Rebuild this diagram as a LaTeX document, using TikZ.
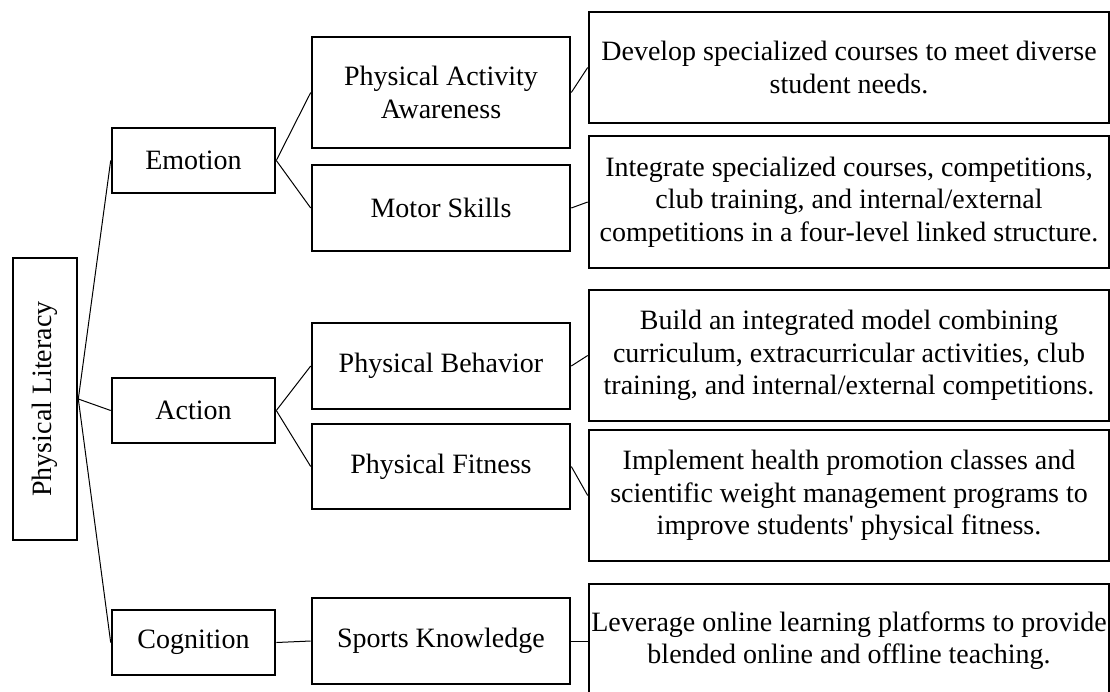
\documentclass[tikz,border=0pt]{standalone}
\usepackage{fontspec}
\setmainfont{Liberation Serif}
% a framed box given by its corners (x1,y1) and (x2,y2)
\newcommand\mkbox[6]{%
  \node[box, minimum width={#4-#2}, minimum height={#5-#3}] (#1)
    at ({(#2+#4)/2},{(#3+#5)/2}) {#6};}
\begin{document}
\begin{tikzpicture}[x=1pt,y=-1pt,
  box/.style={draw, line width=2.6pt, inner sep=0pt, align=center,
              font=\fontsize{28}{32.3}\selectfont},
  link/.style={line width=1pt}]
\clip (0,0) rectangle (1110,691);
\fill[white] (0,0) rectangle (1110,691);

% root
\mkbox{root}{13}{258}{77}{540}{\rotatebox{90}{Physical Literacy}}

% first level
\mkbox{emo}{112}{128}{275}{193}{Emotion}
\mkbox{act}{112}{378}{275}{443}{Action}
\mkbox{cog}{112}{610}{275}{675}{Cognition}

% second level
\mkbox{paa}{312}{37}{570}{148}{Physical Activity\\Awareness}
\mkbox{mot}{312}{165}{570}{251}{Motor Skills}
\mkbox{pbe}{312}{323}{570}{409}{Physical Behavior}
\mkbox{pfi}{312}{424}{570}{509}{Physical Fitness}
\mkbox{spk}{312}{598}{570}{684}{Sports Knowledge}

% measures
\mkbox{ra}{589}{12}{1109}{123}{Develop specialized courses to meet diverse\\student needs.}
\mkbox{rb}{589}{136}{1109}{268}{Integrate specialized courses, competitions,\\club training, and internal/external\\competitions in a four-level linked structure.}
\mkbox{rc}{589}{290}{1109}{421}{Build an integrated model combining\\curriculum, extracurricular activities, club\\training, and internal/external competitions.}
\mkbox{rd}{589}{430}{1109}{561}{Implement health promotion classes and\\scientific weight management programs to\\improve students\textquotesingle{} physical fitness.}
\mkbox{re}{589}{584}{1109}{698}{Leverage online learning platforms to provide\\blended online and offline teaching.}

% connectors
\draw[link] (root.east) -- (emo.west);
\draw[link] (root.east) -- (act.west);
\draw[link] (root.east) -- (cog.west);
\draw[link] (emo.east) -- (paa.west);
\draw[link] (emo.east) -- (mot.west);
\draw[link] (act.east) -- (pbe.west);
\draw[link] (act.east) -- (pfi.west);
\draw[link] (cog.east) -- (spk.west);
\draw[link] (paa.east) -- (ra.west);
\draw[link] (mot.east) -- (rb.west);
\draw[link] (pbe.east) -- (rc.west);
\draw[link] (pfi.east) -- (rd.west);
\draw[link] (spk.east) -- (re.west);
\end{tikzpicture}
\end{document}
